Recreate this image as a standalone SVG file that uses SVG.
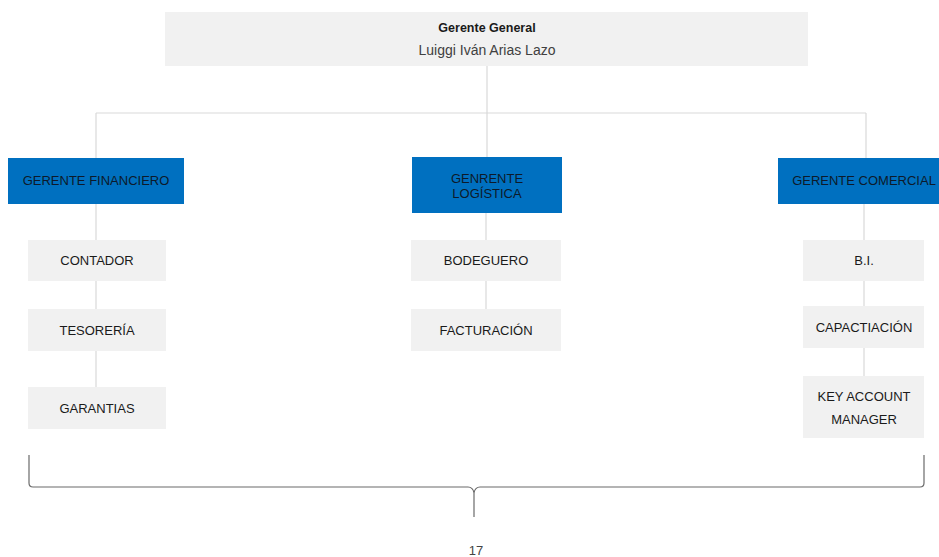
<svg xmlns="http://www.w3.org/2000/svg" width="939" height="557" viewBox="0 0 939 557">
<style>
.box{fill:#f1f1f1}
.blue{fill:#0070c0}
.t{font-family:"Liberation Sans",Arial,sans-serif;font-size:13px;fill:#1a1a1a;text-anchor:middle}
.tb{font-family:"Liberation Sans",Arial,sans-serif;font-size:13px;fill:#0d1a2a;text-anchor:middle}
.ln{stroke:#d9d9d9;stroke-width:1.2;fill:none}
</style>
<rect width="939" height="557" fill="#ffffff"/>
<g id="connectors">
<path class="ln" d="M487 66V113M96 113H866M96 113V158M487 113V157M866 113V158"/>
<path class="ln" d="M96 204V240M96 281V309M96 351V387"/>
<path class="ln" d="M486 213V240M486 281V309"/>
<path class="ln" d="M864 204V240M864 281V306M864 348V376"/>
</g>
<g id="gerente-general">
<rect class="box" x="165" y="12" width="643" height="54"/>
<text class="t" x="487" y="32" font-weight="bold" style="font-size:12.5px">Gerente General</text>
<text class="t" x="487" y="55" style="font-size:14px;fill:#404040">Luiggi Iván Arias Lazo</text>
</g>
<g id="gerente-financiero">
<rect class="blue" x="8" y="158" width="176" height="46"/>
<text class="tb" x="96" y="185">GERENTE FINANCIERO</text>
</g>
<g id="gerente-logistica">
<rect class="blue" x="412" y="157" width="150" height="56"/>
<text class="tb" x="487" y="183">GENRENTE</text>
<text class="tb" x="487" y="198">LOGÍSTICA</text>
</g>
<g id="gerente-comercial">
<rect class="blue" x="778" y="158" width="161" height="46"/>
<text class="tb" x="864" y="185">GERENTE COMERCIAL</text>
</g>
<g id="contador">
<rect class="box" x="28" y="240" width="138" height="41"/>
<text class="t" x="97" y="265">CONTADOR</text>
</g>
<g id="tesoreria">
<rect class="box" x="28" y="309" width="138" height="42"/>
<text class="t" x="97" y="335">TESORERÍA</text>
</g>
<g id="garantias">
<rect class="box" x="28" y="387" width="138" height="42"/>
<text class="t" x="97" y="413">GARANTIAS</text>
</g>
<g id="bodeguero">
<rect class="box" x="411" y="240" width="150" height="41"/>
<text class="t" x="486" y="265">BODEGUERO</text>
</g>
<g id="facturacion">
<rect class="box" x="411" y="309" width="150" height="42"/>
<text class="t" x="486" y="335">FACTURACIÓN</text>
</g>
<g id="bi">
<rect class="box" x="803" y="240" width="121" height="41"/>
<text class="t" x="864" y="265">B.I.</text>
</g>
<g id="capacitacion">
<rect class="box" x="803" y="306" width="121" height="42"/>
<text class="t" x="864" y="332">CAPACTIACIÓN</text>
</g>
<g id="key-account-manager">
<rect class="box" x="803" y="376" width="121" height="62"/>
<text class="t" x="864" y="401">KEY ACCOUNT</text>
<text class="t" x="864" y="424">MANAGER</text>
</g>
<g id="brace">
<path d="M29 455V483Q29 487 33 487H468Q473 487 474 493V517M474 493Q475 487 480 487H920Q924 487 924 483V455" fill="none" stroke="#6b6b6b" stroke-width="1.2"/>
</g>
<text x="476" y="555" font-family="Liberation Sans,Arial,sans-serif" font-size="13" fill="#444" text-anchor="middle">17</text>
</svg>
